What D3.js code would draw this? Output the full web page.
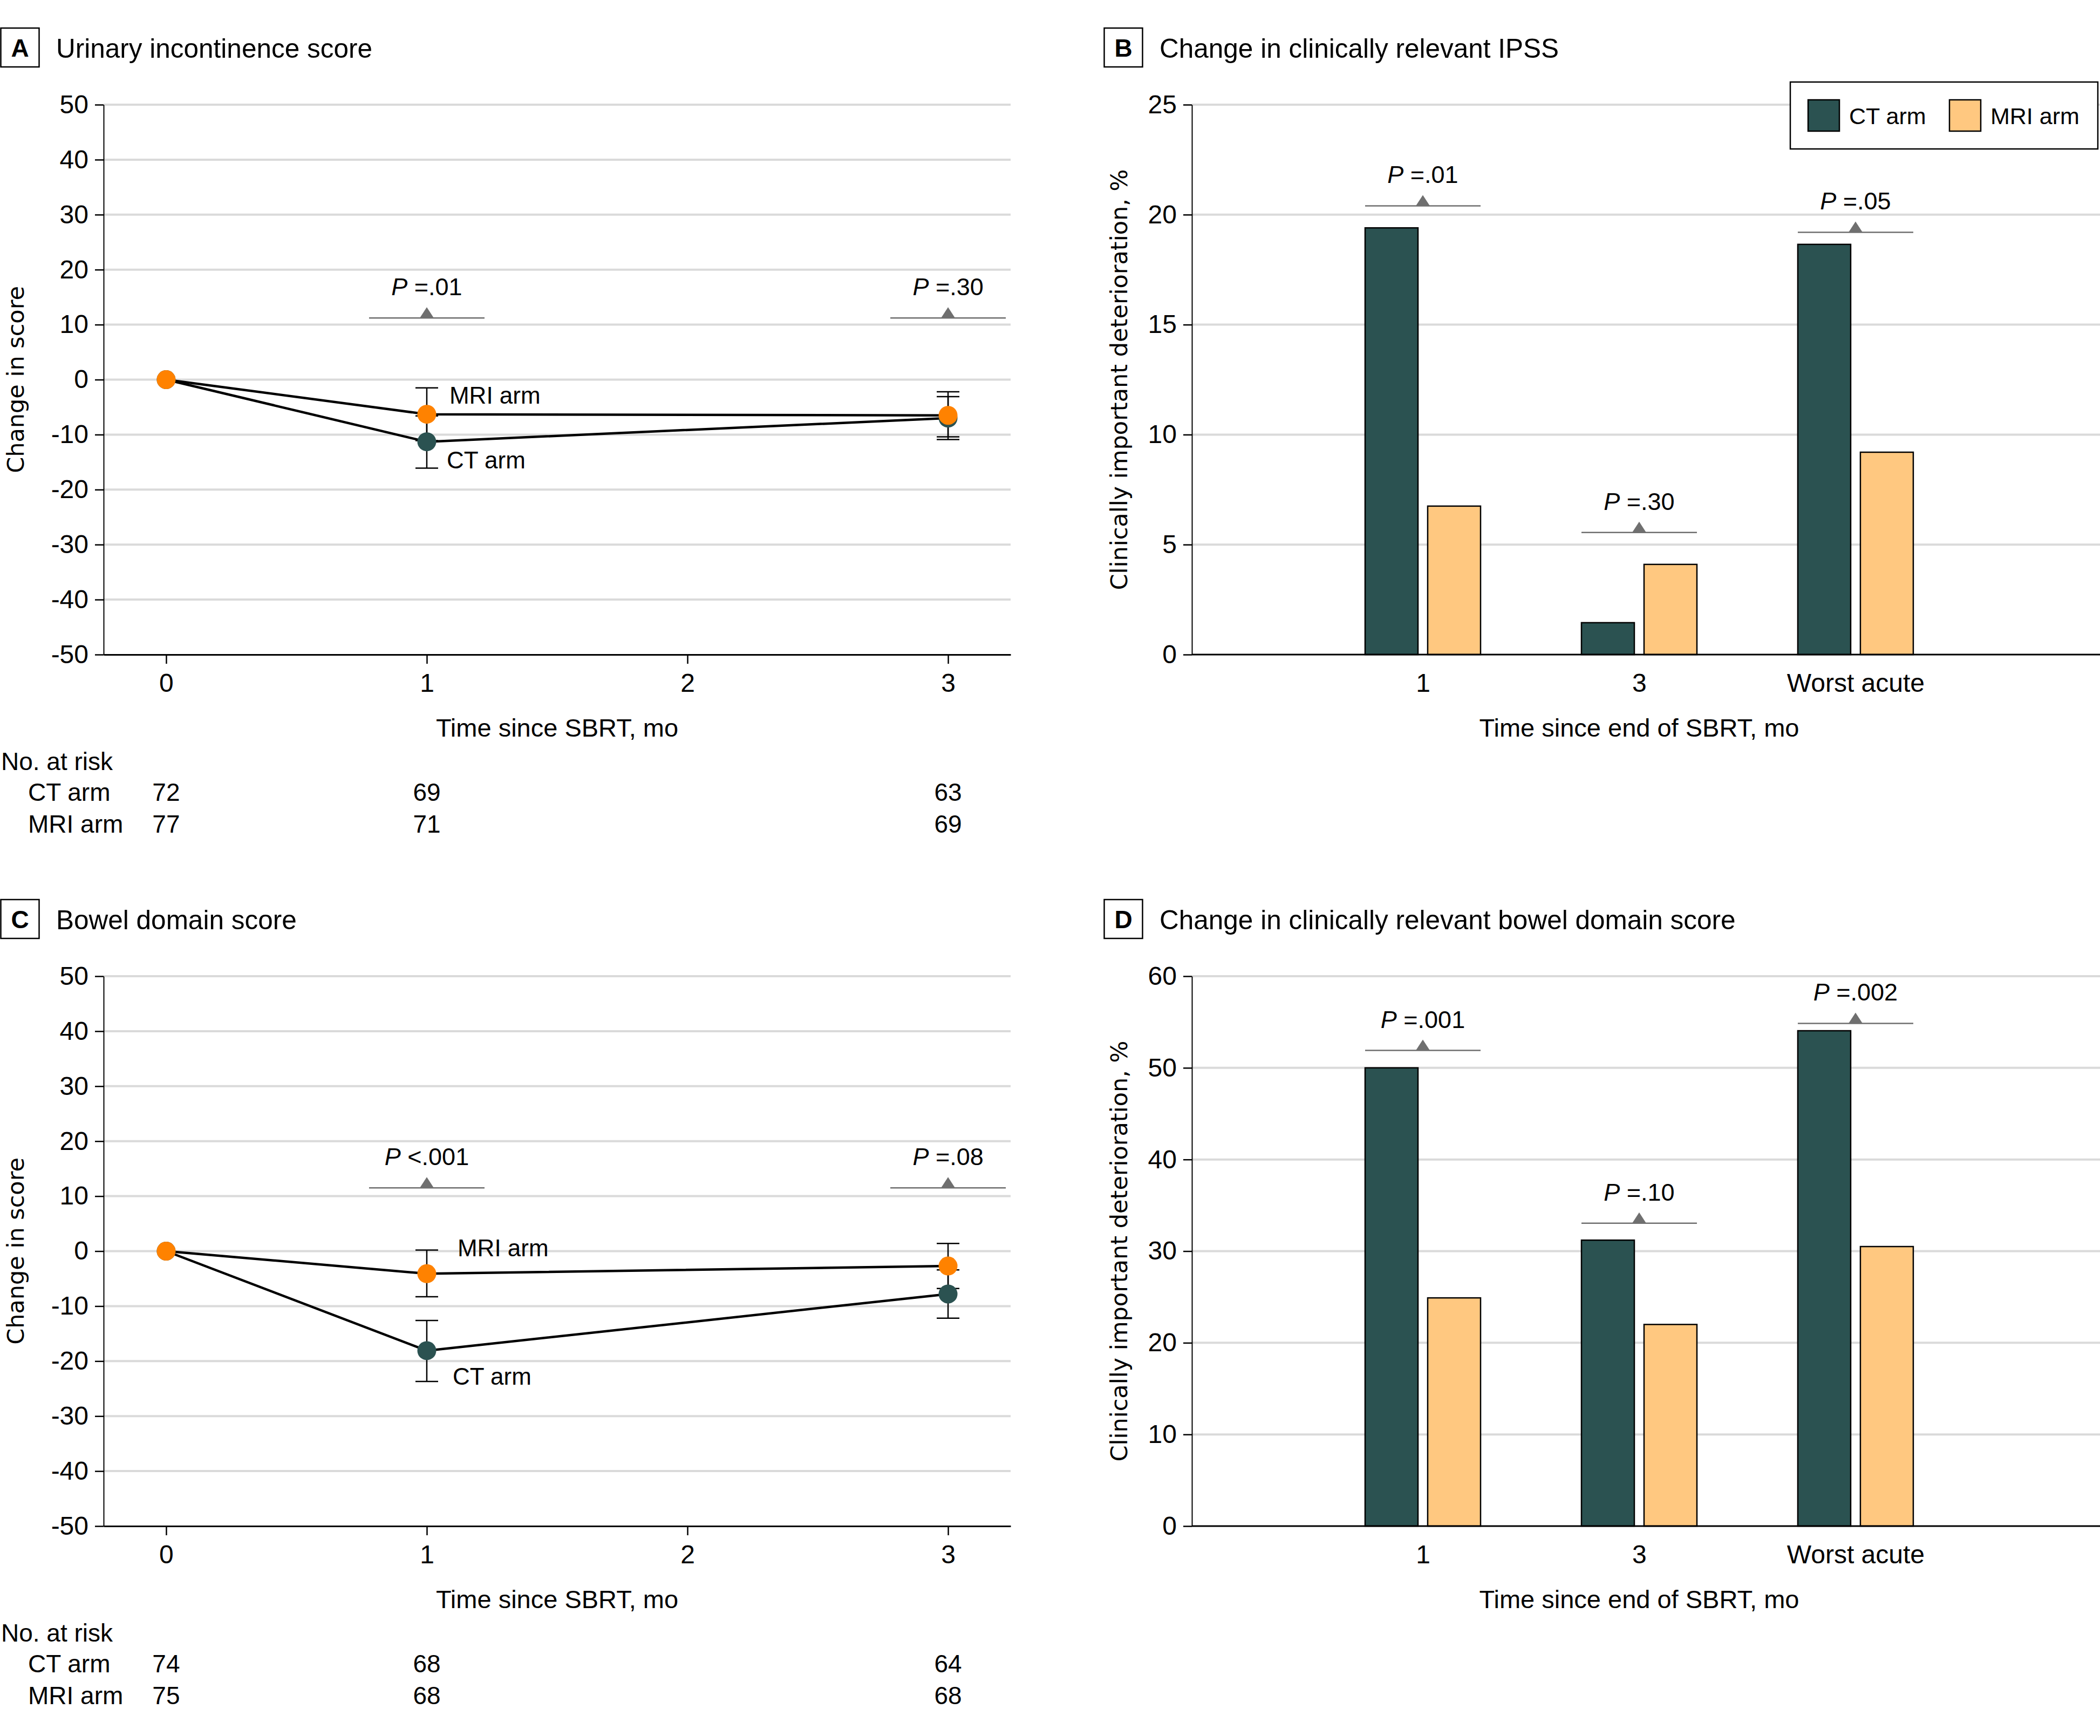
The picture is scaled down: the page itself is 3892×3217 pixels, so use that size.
<!DOCTYPE html>
<html><head><meta charset="utf-8">
<script src="https://cdn.jsdelivr.net/npm/d3@7"></script>
<style>
body{margin:0;background:#fff}
svg{display:block}
text{font-family:"Liberation Sans",Arial,sans-serif;fill:#000}
</style>
</head><body>
<svg id="chart" width="3892" height="3217"></svg>
<script>
// ---------------- DATA ----------------
const months = [0, 1, 3];
const monthTicks = [0, 1, 2, 3];
const scoreTicks = [50, 40, 30, 20, 10, 0, -10, -20, -30, -40, -50];

// Panel A: urinary incontinence score
const uiCT = [0, -11.3, -7.0];
const uiCTlo = [0, -16.1, -10.9];
const uiCThi = [0, -6.6, -3.1];
const uiMRI = [0, -6.3, -6.5];
const uiMRIlo = [0, -11.1, -10.4];
const uiMRIhi = [0, -1.5, -2.2];
const uiPMonths = [1, 3];
const uiPOp = ["=", "="];
const uiPVal = [".01", ".30"];
const uiPLevel = 11.2;
const uiAtRiskCT = [72, 69, 63];
const uiAtRiskMRI = [77, 71, 69];
const uiLabelMRI = -4.4, uiLabelCT = -16.1;

// Panel C: bowel domain score
const bwCT = [0, -18.1, -7.8];
const bwCTlo = [0, -23.7, -12.2];
const bwCThi = [0, -12.6, -3.4];
const bwMRI = [0, -4.1, -2.7];
const bwMRIlo = [0, -8.3, -6.8];
const bwMRIhi = [0, 0.2, 1.4];
const bwPMonths = [1, 3];
const bwPOp = ["<", "="];
const bwPVal = [".001", ".08"];
const bwPLevel = 11.5;
const bwAtRiskCT = [74, 68, 64];
const bwAtRiskMRI = [75, 68, 68];
const bwLabelMRI = -0.9, bwLabelCT = -24.3;

// Panels B and D: bars
const barCats = ["1", "3", "Worst acute"];
const arms = ["CT arm", "MRI arm"];
const ipssTicks = [0, 5, 10, 15, 20, 25];
const ipssCT = [19.4, 1.45, 18.65];
const ipssMRI = [6.75, 4.1, 9.2];
const ipssPOp = ["=", "=", "="];
const ipssPVal = [".01", ".30", ".05"];
const ipssPLevel = [20.4, 5.55, 19.2];

const bowTicks = [0, 10, 20, 30, 40, 50, 60];
const bowCT = [50.0, 31.2, 54.05];
const bowMRI = [24.9, 22.0, 30.5];
const bowPOp = ["=", "=", "="];
const bowPVal = [".001", ".10", ".002"];
const bowPLevel = [51.9, 33.05, 54.85];

// ---------------- STYLE / LAYOUT ----------------
const COL_CT = "#2b5251", COL_MRI_PT = "#ff8200", COL_MRI_BAR = "#ffc880";
const GRID = "#dadada", PGRAY = "#6f6f6f";
const rowOffset = 1615;
const lineLeft = 192, lineRight = 1873, barLeft = 2209, barRight = 3892;
const plotTop = 194, plotBottom = 1213;
const FONT = '"Liberation Sans",Arial,sans-serif';

const svg = d3.select("#chart");
const fmt = d => d < 0 ? "-" + (-d) : String(d);

function header(g, x, letter, txt) {
  g.append("rect").attr("x", x + 1.5).attr("y", 52).attr("width", 71).attr("height", 72)
    .attr("fill", "none").attr("stroke", "#000").attr("stroke-width", 2.5);
  g.append("text").attr("x", x + 37).attr("y", 105).attr("text-anchor", "middle")
    .attr("font-weight", "bold").attr("font-size", 46).text(letter);
  g.append("text").attr("x", x + 104).attr("y", 107).attr("font-size", 49.5).text(txt);
}

function yLabel(g, x, txt) {
  g.append("text").attr("transform", `translate(${x},${(plotTop + plotBottom) / 2}) rotate(-90)`)
    .attr("text-anchor", "middle").style("font-family", '"DejaVu Sans",sans-serif')
    .attr("font-size", 43).text(txt);
}

function pMark(g, cx, cy, op, val) {
  g.append("line").attr("x1", cx - 107).attr("x2", cx + 107).attr("y1", cy).attr("y2", cy)
    .attr("stroke", PGRAY).attr("stroke-width", 2.5);
  g.append("path").attr("d", `M${cx - 13},${cy}L${cx},${cy - 20}L${cx + 13},${cy}Z`).attr("fill", PGRAY);
  const t = g.append("text").attr("x", cx).attr("y", cy - 42).attr("text-anchor", "middle").attr("font-size", 45);
  t.append("tspan").attr("font-style", "italic").text("P");
  t.append("tspan").text(" " + op + val);
}

function styleAxis(ax, fs) {
  ax.attr("font-family", FONT).attr("font-size", fs);
  ax.selectAll("text").attr("fill", "#000");
  ax.selectAll("line").attr("stroke", "#000").attr("stroke-width", 2.5);
  ax.select(".domain").attr("stroke", "#000").attr("stroke-width", 2.5);
}

function linePanel(cfg) {
  const g = svg.append("g").attr("transform", `translate(0,${cfg.dy})`);
  header(g, 0, cfg.letter, cfg.title);
  const x = d3.scaleLinear().domain([-0.24, 3.24]).range([lineLeft, lineRight]);
  const y = d3.scaleLinear().domain([-50, 50]).range([plotBottom, plotTop]);

  g.append("g").selectAll("line").data(scoreTicks.filter(d => d > -50)).join("line")
    .attr("x1", lineLeft).attr("x2", lineRight).attr("y1", d => y(d)).attr("y2", d => y(d))
    .attr("stroke", GRID).attr("stroke-width", 4);

  const ya = g.append("g").attr("transform", `translate(${lineLeft},0)`)
    .call(d3.axisLeft(y).tickValues(scoreTicks).tickSize(16).tickSizeOuter(0).tickPadding(12).tickFormat(fmt));
  styleAxis(ya, 48);
  ya.select(".domain").attr("stroke-width", 2);
  const xa = g.append("g").attr("transform", `translate(0,${plotBottom})`)
    .call(d3.axisBottom(x).tickValues(monthTicks).tickSize(17).tickSizeOuter(0).tickPadding(18).tickFormat(fmt));
  styleAxis(xa, 48);
  xa.select(".domain").attr("stroke-width", 3);

  yLabel(g, 44, "Change in score");
  g.append("text").attr("x", (lineLeft + lineRight) / 2).attr("y", 1365).attr("text-anchor", "middle")
    .attr("font-size", 47).text("Time since SBRT, mo");

  // P annotations
  cfg.pMonths.forEach((m, i) => pMark(g, x(m), y(cfg.pLevel), cfg.pOp[i], cfg.pVal[i]));

  const line = d3.line().x((d, i) => x(months[i])).y(d => y(d));
  [cfg.ct, cfg.mri].forEach(s => g.append("path").attr("d", line(s)).attr("fill", "none")
    .attr("stroke", "#000").attr("stroke-width", 4.5).attr("stroke-linejoin", "round"));

  // error bars
  const eb = [[cfg.ctLo, cfg.ctHi], [cfg.mriLo, cfg.mriHi]];
  eb.forEach(([lo, hi]) => {
    months.forEach((m, i) => {
      if (lo[i] === hi[i]) return;
      const cx = x(m);
      g.append("line").attr("x1", cx).attr("x2", cx).attr("y1", y(lo[i])).attr("y2", y(hi[i]))
        .attr("stroke", "#000").attr("stroke-width", 2.5);
      [lo[i], hi[i]].forEach(v => g.append("line").attr("x1", cx - 21).attr("x2", cx + 21)
        .attr("y1", y(v)).attr("y2", y(v)).attr("stroke", "#000").attr("stroke-width", 2.5));
    });
  });

  g.append("g").selectAll("circle").data(cfg.ct).join("circle")
    .attr("cx", (d, i) => x(months[i])).attr("cy", d => y(d)).attr("r", 17.5).attr("fill", COL_CT);
  g.append("g").selectAll("circle").data(cfg.mri).join("circle")
    .attr("cx", (d, i) => x(months[i])).attr("cy", d => y(d)).attr("r", 17.5).attr("fill", COL_MRI_PT);

  g.append("text").attr("x", x(1) + cfg.mriLx).attr("y", y(cfg.labelMRI)).attr("font-size", 44).text("MRI arm");
  g.append("text").attr("x", x(1) + cfg.ctLx).attr("y", y(cfg.labelCT)).attr("font-size", 44).text("CT arm");

  // number at risk
  g.append("text").attr("x", 2).attr("y", 1427).attr("font-size", 46).text("No. at risk");
  g.append("text").attr("x", 52).attr("y", 1484).attr("font-size", 46).text("CT arm");
  g.append("text").attr("x", 52).attr("y", 1543).attr("font-size", 46).text("MRI arm");
  g.append("g").selectAll("text").data(cfg.riskCT).join("text")
    .attr("x", (d, i) => x(months[i])).attr("y", 1484).attr("text-anchor", "middle").attr("font-size", 46).text(d => d);
  g.append("g").selectAll("text").data(cfg.riskMRI).join("text")
    .attr("x", (d, i) => x(months[i])).attr("y", 1543).attr("text-anchor", "middle").attr("font-size", 46).text(d => d);
}

function barPanel(cfg) {
  const g = svg.append("g").attr("transform", `translate(0,${cfg.dy})`);
  header(g, 2045, cfg.letter, cfg.title);
  const w = barRight - barLeft;
  const x = d3.scalePoint().domain(barCats).range([barLeft + 0.2543 * w, barLeft + 0.7308 * w]);
  const sub = d3.scaleBand().domain(arms).range([-107, 107]).paddingInner(0.155);
  const y = d3.scaleLinear().domain([0, cfg.max]).range([plotBottom, plotTop]);

  g.append("g").selectAll("line").data(cfg.ticks.filter(d => d > 0)).join("line")
    .attr("x1", barLeft).attr("x2", barRight).attr("y1", d => y(d)).attr("y2", d => y(d))
    .attr("stroke", GRID).attr("stroke-width", 4);

  const ya = g.append("g").attr("transform", `translate(${barLeft},0)`)
    .call(d3.axisLeft(y).tickValues(cfg.ticks).tickSize(16).tickSizeOuter(0).tickPadding(12));
  styleAxis(ya, 48);
  ya.select(".domain").attr("stroke-width", 2);

  const series = [cfg.ct, cfg.mri];
  const fills = [COL_CT, COL_MRI_BAR];
  series.forEach((s, k) => {
    g.append("g").selectAll("rect").data(s).join("rect")
      .attr("x", (d, i) => x(barCats[i]) + sub(arms[k])).attr("width", sub.bandwidth())
      .attr("y", d => y(d)).attr("height", d => y(0) - y(d))
      .attr("fill", fills[k]).attr("stroke", "#000").attr("stroke-width", 2.5);
  });

  const xa = g.append("g").attr("transform", `translate(0,${plotBottom})`)
    .call(d3.axisBottom(x).tickSize(0).tickPadding(35));
  styleAxis(xa, 48);
  xa.select(".domain").remove();
  g.append("line").attr("x1", barLeft).attr("x2", barRight).attr("y1", plotBottom).attr("y2", plotBottom)
    .attr("stroke", "#000").attr("stroke-width", 3);

  barCats.forEach((c, i) => pMark(g, x(c), y(cfg.pLevel[i]), cfg.pOp[i], cfg.pVal[i]));

  yLabel(g, 2089, "Clinically important deterioration, %");
  g.append("text").attr("x", x("3")).attr("y", 1365).attr("text-anchor", "middle")
    .attr("font-size", 47).text("Time since end of SBRT, mo");

  if (cfg.legend) {
    const lg = g.append("g");
    lg.append("rect").attr("x", 3318).attr("y", 152).attr("width", 570).attr("height", 124)
      .attr("fill", "#fff").attr("stroke", "#000").attr("stroke-width", 2.5);
    const lx = [3351, 3613];
    arms.forEach((a, k) => {
      lg.append("rect").attr("x", lx[k]).attr("y", 185).attr("width", 58).attr("height", 58)
        .attr("fill", fills[k]).attr("stroke", "#000").attr("stroke-width", 2.5);
      lg.append("text").attr("x", lx[k] + 76).attr("y", 230).attr("font-size", 43).text(a);
    });
  }
}

linePanel({dy: 0, letter: "A", title: "Urinary incontinence score",
  ct: uiCT, ctLo: uiCTlo, ctHi: uiCThi, mri: uiMRI, mriLo: uiMRIlo, mriHi: uiMRIhi,
  pMonths: uiPMonths, pOp: uiPOp, pVal: uiPVal, pLevel: uiPLevel,
  riskCT: uiAtRiskCT, riskMRI: uiAtRiskMRI, labelMRI: uiLabelMRI, labelCT: uiLabelCT, mriLx: 42, ctLx: 37});
linePanel({dy: rowOffset, letter: "C", title: "Bowel domain score",
  ct: bwCT, ctLo: bwCTlo, ctHi: bwCThi, mri: bwMRI, mriLo: bwMRIlo, mriHi: bwMRIhi,
  pMonths: bwPMonths, pOp: bwPOp, pVal: bwPVal, pLevel: bwPLevel,
  riskCT: bwAtRiskCT, riskMRI: bwAtRiskMRI, labelMRI: bwLabelMRI, labelCT: bwLabelCT, mriLx: 57, ctLx: 48});
barPanel({dy: 0, letter: "B", title: "Change in clinically relevant IPSS", max: 25, ticks: ipssTicks,
  ct: ipssCT, mri: ipssMRI, pOp: ipssPOp, pVal: ipssPVal, pLevel: ipssPLevel, legend: true});
barPanel({dy: rowOffset, letter: "D", title: "Change in clinically relevant bowel domain score", max: 60, ticks: bowTicks,
  ct: bowCT, mri: bowMRI, pOp: bowPOp, pVal: bowPVal, pLevel: bowPLevel, legend: false});
</script>
</body></html>
